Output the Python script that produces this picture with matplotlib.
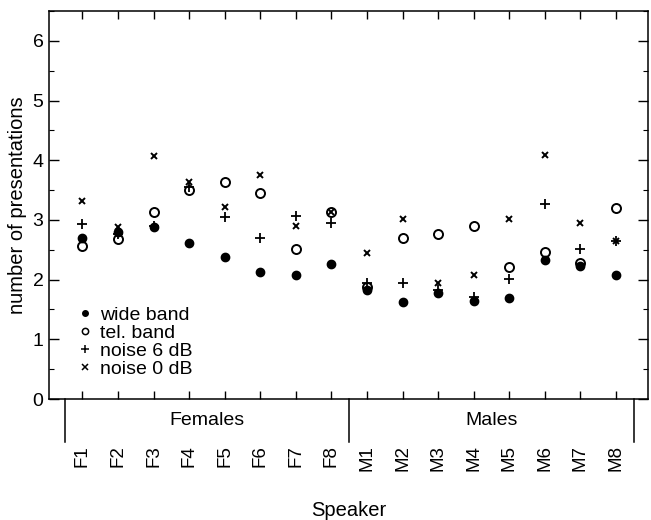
import matplotlib
matplotlib.use("Agg")
import matplotlib.pyplot as plt
from matplotlib.lines import Line2D
from matplotlib.ticker import MultipleLocator

plt.rcParams['font.family'] = ['Liberation Sans', 'DejaVu Sans']

speakers = ["F1", "F2", "F3", "F4", "F5", "F6", "F7", "F8",
            "M1", "M2", "M3", "M4", "M5", "M6", "M7", "M8"]
wide_band = [2.70, 2.80, 2.88, 2.62, 2.38, 2.13, 2.07, 2.26,
             1.83, 1.63, 1.78, 1.65, 1.70, 2.33, 2.22, 2.07]
tel_band = [2.56, 2.68, 3.14, 3.50, 3.63, 3.45, 2.51, 3.14,
            1.87, 2.70, 2.77, 2.89, 2.21, 2.46, 2.28, 3.20]
noise_6 = [2.93, 2.76, 2.90, 3.55, 3.05, 2.70, 3.07, 2.95,
           1.94, 1.94, 1.82, 1.71, 2.01, 3.27, 2.52, 2.64]
noise_0 = [3.32, 2.88, 4.07, 3.63, 3.21, 3.76, 2.89, 3.14,
           2.45, 3.02, 1.95, 2.08, 3.02, 4.08, 2.95, 2.64]
groups = ["Females", "Males"]
yticks = [0, 1, 2, 3, 4, 5, 6]

x = list(range(1, len(speakers) + 1))

fig = plt.figure(figsize=(6.51, 5.20), dpi=100)
ax = fig.add_axes([49 / 651, 1 - 399 / 520, (648 - 49) / 651, (399 - 11) / 520])

ax.plot(x, wide_band, linestyle='none', marker='o', ms=6, mfc='black', mec='black')
ax.plot(x, tel_band, linestyle='none', marker='o', ms=6.5, mfc='none', mec='black', mew=1.4)
ax.plot(x, noise_6, linestyle='none', marker='+', ms=6.5, color='black', mew=1.3)
ax.plot(x, noise_0, linestyle='none', marker='x', ms=5, color='black', mew=1.4)

ax.set_xlim(0.06, 16.9)
ax.set_ylim(0, 6.5)
ax.set_yticks(yticks)
ax.yaxis.set_minor_locator(MultipleLocator(0.5))
ax.set_xticks(x)
ax.set_xticklabels(speakers, rotation=90, fontsize=13.5)
ax.tick_params(axis='x', direction='in', top=True, bottom=True, length=6, width=1, pad=33)
ax.tick_params(axis='y', which='major', direction='in', left=True, right=True, length=7, width=1,
               labelsize=14, pad=4)
ax.tick_params(axis='y', which='minor', direction='in', left=True, right=True, length=3.5, width=0.8)
for s in ax.spines.values():
    s.set_linewidth(1.1)

ax.set_ylabel("number of presentations", fontsize=14.5, labelpad=4)
ax.set_xlabel("Speaker", fontsize=14.5, labelpad=22)

# group brackets
for xb in [0.5, 8.5, 16.5]:
    ax.plot([xb, xb], [0, -0.72], color='black', lw=1.1, clip_on=False)
ax.text(4.5, -0.36, groups[0], ha='center', va='center', fontsize=14)
ax.text(12.5, -0.36, groups[1], ha='center', va='center', fontsize=14)

handles = [
    Line2D([], [], linestyle='none', marker='o', ms=4, mfc='black', mec='black'),
    Line2D([], [], linestyle='none', marker='o', ms=4.5, mfc='none', mec='black', mew=1.1),
    Line2D([], [], linestyle='none', marker='+', ms=5.5, color='black', mew=1.1),
    Line2D([], [], linestyle='none', marker='x', ms=4, color='black', mew=1.1),
]
labels = ["wide band", "tel. band", "noise 6 dB", "noise 0 dB"]
ax.legend(handles, labels, loc='lower left', bbox_to_anchor=(0.045, 0.055), frameon=False,
          fontsize=14, handlelength=0.9, handletextpad=0.35, labelspacing=0.02,
          borderpad=0, borderaxespad=0)

fig.savefig("out.png", dpi=100)
